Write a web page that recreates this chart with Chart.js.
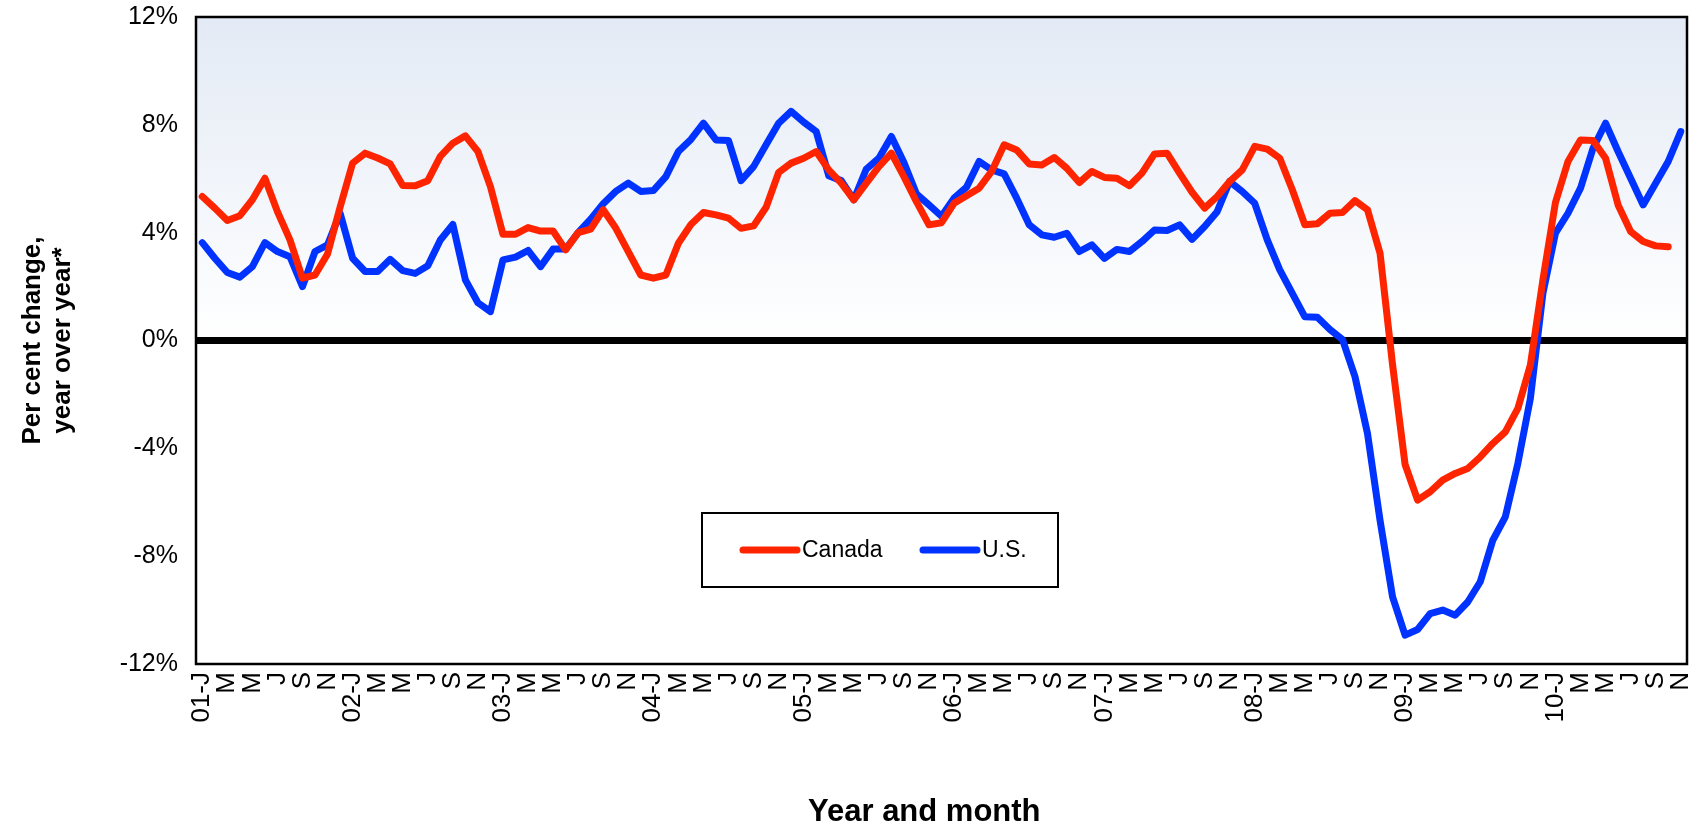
<!DOCTYPE html>
<html>
<head>
<meta charset="utf-8">
<title>Per cent change, year over year - Canada and U.S.</title>
<script src="https://cdn.jsdelivr.net/npm/chart.js@4.4.1/dist/chart.umd.min.js"></script>
<style>
  html, body { margin: 0; padding: 0; background: #ffffff; }
  #chart { display: block; }
</style>
</head>
<body>
<canvas id="chart" width="1707" height="831"></canvas>
<script>
// Categories: monthly, Jan 2001 to Nov 2010
const years = ['01', '02', '03', '04', '05', '06', '07', '08', '09', '10'];
const monthLetters = ['J', 'F', 'M', 'A', 'M', 'J', 'J', 'A', 'S', 'O', 'N', 'D'];
const monthCount = 119;

// Per cent change, year over year
const canada = [
    5.34, 4.91, 4.45, 4.63, 5.22, 6.02, 4.78, 3.73, 2.31, 2.43,
    3.21, 4.95, 6.58, 6.95, 6.77, 6.55, 5.75, 5.74, 5.93, 6.83,
    7.32, 7.59, 7.01, 5.71, 3.94, 3.94, 4.19, 4.06, 4.06, 3.36,
    4.00, 4.13, 4.85, 4.17, 3.30, 2.43, 2.31, 2.43, 3.61, 4.30,
    4.75, 4.66, 4.54, 4.16, 4.25, 4.94, 6.23, 6.58, 6.76, 7.01,
    6.33, 5.84, 5.22, 5.84, 6.45, 6.95, 6.08, 5.15, 4.29, 4.37,
    5.09, 5.37, 5.65, 6.27, 7.26, 7.07, 6.55, 6.51, 6.79, 6.39,
    5.86, 6.27, 6.05, 6.02, 5.74, 6.21, 6.92, 6.95, 6.21, 5.50,
    4.91, 5.34, 5.90, 6.33, 7.20, 7.10, 6.76, 5.59, 4.29, 4.33,
    4.72, 4.75, 5.19, 4.85, 3.24, -0.90, -4.60, -5.92, -5.61, -5.18,
    -4.93, -4.75, -4.32, -3.82, -3.39, -2.52, -0.91, 2.25, 5.12, 6.64,
    7.44, 7.42, 6.76, 5.03, 4.04, 3.67, 3.51, 3.48, null
];

const us = [
    3.63, 3.05, 2.52, 2.35, 2.74, 3.63, 3.30, 3.11, 2.00, 3.30,
    3.55, 4.72, 3.05, 2.56, 2.56, 3.01, 2.59, 2.49, 2.77, 3.73,
    4.30, 2.25, 1.40, 1.07, 2.99, 3.09, 3.34, 2.74, 3.39, 3.39,
    4.00, 4.50, 5.07, 5.53, 5.84, 5.53, 5.56, 6.08, 7.01, 7.46,
    8.06, 7.44, 7.42, 5.93, 6.45, 7.26, 8.06, 8.50, 8.10, 7.75,
    6.11, 5.93, 5.22, 6.36, 6.76, 7.57, 6.60, 5.44, 5.03, 4.61,
    5.28, 5.69, 6.64, 6.33, 6.18, 5.28, 4.29, 3.92, 3.83, 3.98,
    3.30, 3.55, 3.05, 3.38, 3.30, 3.67, 4.10, 4.08, 4.29, 3.75,
    4.23, 4.78, 5.90, 5.53, 5.09, 3.73, 2.62, 1.75, 0.88, 0.86,
    0.41, 0.04, -1.34, -3.45, -6.67, -9.51, -10.93, -10.72, -10.13, -10.00,
    -10.19, -9.70, -8.95, -7.41, -6.54, -4.56, -2.15, 1.75, 3.98, 4.72,
    5.65, 7.13, 8.06, 7.01, 6.02, 5.03, 5.83, 6.64, 7.75
];

// Y axis tick values
const yTicks = [-12, -8, -4, 0, 4, 8, 12];

const seriesNames = ['Canada', 'U.S.'];
const seriesColors = ['#ff2400', '#0033ff'];

// Build the category labels ("01-J", "F", "M", ...)
const categories = [];
years.forEach(yr => {
    monthLetters.forEach((m, i) => {
        if (categories.length < monthCount) {
            categories.push(i === 0 ? `${yr}-${m}` : m);
        }
    });
});

const FONT = "'Liberation Sans', Arial, Helvetica, sans-serif";

// Gradient background, zero line and plot frame
const plotDecor = {
    id: 'plotDecor',
    beforeDatasetsDraw(chart) {
        const { ctx, chartArea: a, scales: { y } } = chart;
        const zeroY = y.getPixelForValue(0);
        ctx.save();
        const grad = ctx.createLinearGradient(0, a.top, 0, zeroY);
        grad.addColorStop(0, '#e3eaf5');
        grad.addColorStop(1, '#ffffff');
        ctx.fillStyle = grad;
        ctx.fillRect(a.left, a.top, a.width, zeroY - a.top);

        ctx.strokeStyle = '#000';
        ctx.lineWidth = 7;
        ctx.beginPath();
        ctx.moveTo(a.left, zeroY);
        ctx.lineTo(a.right, zeroY);
        ctx.stroke();
        ctx.restore();
    },
    afterDatasetsDraw(chart) {
        const { ctx, chartArea: a } = chart;
        ctx.save();
        ctx.strokeStyle = '#000';
        ctx.lineWidth = 2.5;
        ctx.strokeRect(a.left, a.top, a.width, a.height);
        ctx.restore();
    }
};

// Boxed legend sitting inside the plot area
const boxLegend = {
    id: 'boxLegend',
    afterDraw(chart) {
        const { ctx, chartArea: a } = chart;
        const boxX = a.left + 506;
        const boxY = a.top + 496;
        const boxW = 356;
        const boxH = 74;
        ctx.save();
        ctx.strokeStyle = '#000';
        ctx.lineWidth = 2;
        ctx.strokeRect(boxX, boxY, boxW, boxH);

        ctx.font = `23px ${FONT}`;
        ctx.textBaseline = 'middle';
        ctx.textAlign = 'left';
        const midY = boxY + 37;
        const starts = [boxX + 41, boxX + 221];
        chart.data.datasets.forEach((ds, i) => {
            const x0 = starts[i];
            ctx.strokeStyle = ds.borderColor;
            ctx.lineWidth = 7;
            ctx.lineCap = 'round';
            ctx.beginPath();
            ctx.moveTo(x0, midY);
            ctx.lineTo(x0 + 54, midY);
            ctx.stroke();
            ctx.fillStyle = '#000';
            ctx.fillText(ds.label, x0 + 59, midY + 1);
        });
        ctx.restore();
    }
};

const ctx = document.getElementById('chart').getContext('2d');
const chart = new Chart(ctx, {
    type: 'line',
    data: {
        labels: categories,
        datasets: [
            {
                label: seriesNames[0],
                data: canada,
                borderColor: seriesColors[0],
                borderWidth: 7,
                pointRadius: 0,
                tension: 0,
                fill: false,
                borderCapStyle: 'round',
                borderJoinStyle: 'round',
                spanGaps: false
            },
            {
                label: seriesNames[1],
                data: us,
                borderColor: seriesColors[1],
                borderWidth: 7,
                pointRadius: 0,
                tension: 0,
                fill: false,
                borderCapStyle: 'round',
                borderJoinStyle: 'round'
            }
        ]
    },
    options: {
        responsive: false,
        animation: false,
        layout: {
            padding: { top: 17, right: 20, left: 0, bottom: 0 }
        },
        plugins: {
            legend: { display: false },
            tooltip: { enabled: false }
        },
        scales: {
            x: {
                type: 'category',
                offset: true,
                grid: { display: false, drawTicks: false },
                border: { display: false },
                ticks: {
                    autoSkip: false,
                    maxRotation: 90,
                    minRotation: 90,
                    padding: 8,
                    color: '#000',
                    font: { family: FONT, size: 26 },
                    callback: function (value, index) {
                        return index % 2 === 0 ? this.getLabelForValue(value) : '';
                    }
                },
                title: {
                    display: true,
                    // trailing spaces nudge the centred title a little to the left, as in the original
                    text: 'Year and month    ',
                    color: '#000',
                    font: { family: FONT, size: 31, weight: 'bold' },
                    padding: { top: 0, bottom: 0 }
                },
                afterFit: scale => {
                    scale.height = 167;
                    scale.paddingLeft = 0;
                    scale.paddingRight = 0;
                }
            },
            y: {
                min: yTicks[0],
                max: yTicks[yTicks.length - 1],
                grid: { display: false, drawTicks: false },
                border: { display: false },
                ticks: {
                    stepSize: yTicks[1] - yTicks[0],
                    padding: 18,
                    color: '#000',
                    font: { family: FONT, size: 25 },
                    callback: value => `${value}%`
                },
                title: {
                    display: true,
                    text: ['Per cent change,', 'year over year*'],
                    color: '#000',
                    font: { family: FONT, size: 26, weight: 'bold', lineHeight: 1.16 },
                    padding: { top: 18, bottom: 0 }
                },
                afterFit: scale => {
                    scale.width = 196;
                    scale.paddingTop = 0;
                    scale.paddingBottom = 0;
                }
            }
        }
    },
    plugins: [plotDecor, boxLegend]
});
</script>
</body>
</html>
